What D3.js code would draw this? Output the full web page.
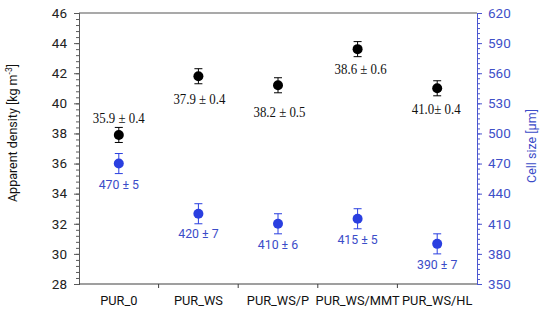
<!DOCTYPE html>
<html lang="en">
  <script src="https://d3js.org/d3.v7.min.js"></script>
  <style>
    body {
      margin: 0;
      background: #fff;
    }
    svg {
      font-family: Roboto, "Open Sans", sans-serif;
    }
  </style>
  <body>
    <svg width="550" height="320"></svg>
    <script>
      // chart values
      const categories = ["PUR_0", "PUR_WS", "PUR_WS/P", "PUR_WS/MMT", "PUR_WS/HL"];
      const density = [37.9, 41.8, 41.2, 43.6, 41.0];
      const densityErr = [0.5, 0.5, 0.5, 0.5, 0.5];
      const densityLabels = ["35.9 ± 0.4", "37.9 ± 0.4", "38.2 ± 0.5", "38.6 ± 0.6", "41.0± 0.4"];
      const cellSize = [470, 420, 410, 415, 390];
      const cellErr = [10, 10, 10, 10, 10];
      const cellLabels = ["470 ± 5", "420 ± 7", "410 ± 6", "415 ± 5", "390 ± 7"];
      const leftTicks = [28, 30, 32, 34, 36, 38, 40, 42, 44, 46];
      const rightTicks = [350, 380, 410, 440, 470, 500, 530, 560, 590, 620];

      // label placement (px offsets from the point)
      const densityLabelDy = [-17, 23, 27, 20, 21];
      const densityLabelDx = [0, 1, 1.5, 3, -1];
      const cellLabelDy = [21, 20, 21, 21, 21];

      const black = "#000";
      const blue = "#2a3fe0";
      const blueText = "#3b4cc8";

      const svg = d3.select("svg");
      const mLeft = 79, mRight = 477, mTop = 13, mBottom = 284;

      const x = d3.scaleBand().domain(categories).range([mLeft, mRight]);
      const y = d3.scaleLinear().domain([28, 46]).range([mBottom, mTop]);
      const y2 = d3.scaleLinear().domain([350, 620]).range([mBottom, mTop]);

      // top border
      svg.append("line")
        .attr("x1", mLeft).attr("x2", mRight)
        .attr("y1", mTop).attr("y2", mTop)
        .attr("stroke", "#8c8c8c").attr("stroke-width", 1.3);

      // left axis: minor then major
      const gl = svg.append("g").attr("transform", `translate(${mLeft},0)`);
      gl.append("g").call(d3.axisLeft(y).tickValues(d3.range(28, 46.01, 0.4)).tickSize(3).tickFormat(""));
      gl.append("g").call(d3.axisLeft(y).tickValues(leftTicks).tickSize(5).tickPadding(7));
      gl.selectAll("path, line").attr("stroke", "#595959");
      gl.selectAll("text").attr("font-size", 13.5).attr("fill", "#222");

      // right axis
      const gr = svg.append("g").attr("transform", `translate(${mRight},0)`);
      gr.append("g").call(d3.axisRight(y2).tickValues(d3.range(350, 620.1, 5)).tickSize(3).tickFormat(""));
      gr.append("g").call(d3.axisRight(y2).tickValues(rightTicks).tickSize(5).tickPadding(6));
      gr.selectAll("path, line").attr("stroke", "#4a55d0");
      gr.selectAll("text").attr("font-size", 13.5).attr("fill", "#4050c8");
      gl.selectAll("g").attr("font-family", null);
      gr.selectAll("g").attr("font-family", null);

      // bottom axis with ticks at category boundaries
      const gb = svg.append("g").attr("transform", `translate(0,${mBottom})`);
      gb.append("line")
        .attr("x1", mLeft).attr("x2", mRight)
        .attr("stroke", "#404040").attr("stroke-width", 1.2);
      gb.selectAll("line.tk")
        .data(categories.slice(1))
        .join("line")
        .attr("class", "tk")
        .attr("x1", (d) => x(d)).attr("x2", (d) => x(d))
        .attr("y1", 0).attr("y2", 4)
        .attr("stroke", "#404040");
      gb.selectAll("text")
        .data(categories)
        .join("text")
        .attr("x", (d) => x(d) + x.bandwidth() / 2)
        .attr("y", 21)
        .attr("text-anchor", "middle")
        .attr("font-size", 12.8)
        .attr("fill", "#111")
        .text((d) => d);

      // axis titles
      const lt = svg.append("text")
        .attr("transform", "translate(17,133) rotate(-90)")
        .attr("text-anchor", "middle")
        .attr("font-size", 12.5)
        .attr("fill", "#111");
      lt.append("tspan").text("Apparent density [kg m");
      lt.append("tspan").attr("baseline-shift", "super").attr("font-size", 8.5).text("-3");
      lt.append("tspan").text("]");

      svg.append("text")
        .attr("transform", "translate(536,146) rotate(-90)")
        .attr("text-anchor", "middle")
        .attr("font-size", 12.5)
        .attr("fill", "#3b4cc8")
        .text("Cell size [µm]");

      const cx = (i) => x(categories[i]) + x.bandwidth() / 2;

      function errBars(vals, errs, scale, color) {
        const g = svg.append("g").attr("stroke", color).attr("stroke-width", 1);
        vals.forEach((v, i) => {
          const a = scale(v - errs[i]), b = scale(v + errs[i]);
          g.append("line").attr("x1", cx(i)).attr("x2", cx(i)).attr("y1", a).attr("y2", b);
          g.append("line").attr("x1", cx(i) - 4).attr("x2", cx(i) + 4).attr("y1", a).attr("y2", a);
          g.append("line").attr("x1", cx(i) - 4).attr("x2", cx(i) + 4).attr("y1", b).attr("y2", b);
        });
      }

      errBars(density, densityErr, y, black);
      errBars(cellSize, cellErr, y2, blue);

      svg.append("g").selectAll("circle")
        .data(density)
        .join("circle")
        .attr("cx", (d, i) => cx(i))
        .attr("cy", (d) => y(d))
        .attr("r", 5)
        .attr("fill", black);

      svg.append("g").selectAll("circle")
        .data(cellSize)
        .join("circle")
        .attr("cx", (d, i) => cx(i))
        .attr("cy", (d) => y2(d))
        .attr("r", 5)
        .attr("fill", blue);

      // value labels
      svg.append("g").selectAll("text")
        .data(densityLabels)
        .join("text")
        .attr("x", (d, i) => cx(i) + densityLabelDx[i])
        .attr("y", (d, i) => y(density[i]) + densityLabelDy[i])
        .attr("dy", "0.35em")
        .attr("text-anchor", "middle")
        .style("font-family", "'Liberation Serif', 'DejaVu Serif', serif")
        .attr("font-size", 14.5)
        .attr("textLength", (d) => (d.indexOf("± ") > d.indexOf(" ") ? 52 : 49))
        .attr("lengthAdjust", "spacingAndGlyphs")
        .attr("fill", "#111")
        .text((d) => d);

      svg.append("g").selectAll("text")
        .data(cellLabels)
        .join("text")
        .attr("x", (d, i) => cx(i))
        .attr("y", (d, i) => y2(cellSize[i]) + cellLabelDy[i])
        .attr("dy", "0.35em")
        .attr("text-anchor", "middle")
        .attr("font-size", 12.3)
        .attr("fill", blueText)
        .text((d) => d);
    </script>
  </body>
</html>
